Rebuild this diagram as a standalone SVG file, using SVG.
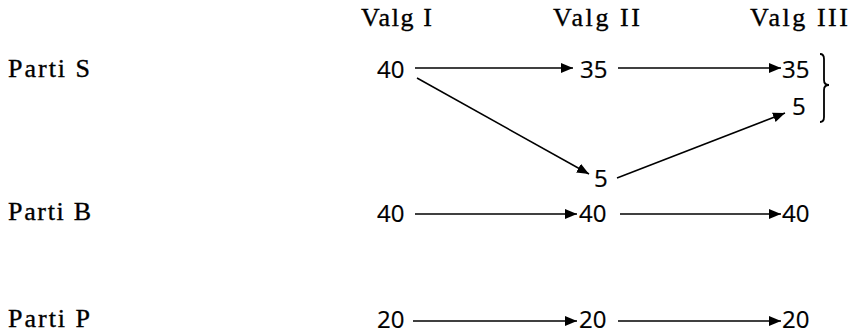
<svg xmlns="http://www.w3.org/2000/svg" width="855" height="335" viewBox="0 0 855 335">
<style>
.lbl{font-family:"Liberation Serif","Times New Roman",serif;font-size:26px;fill:#000;stroke:#000;stroke-width:0.35}
.num{font-family:"Open Sans","Liberation Sans",sans-serif;font-size:24px;fill:#000;stroke:#000;stroke-width:0.2}
.edge{stroke:#000;stroke-width:1.5;fill:none}
.brace{stroke:#000;stroke-width:1.8;fill:none}
</style>
<defs>
<marker id="ah" markerUnits="userSpaceOnUse" markerWidth="14" markerHeight="11" refX="12" refY="5" orient="auto">
<path d="M0,0 L12,5 L0,10 Z" fill="#000"/>
</marker>
</defs>
<rect width="855" height="335" fill="#fff"/>
<g id="headers">
<text class="lbl" x="361" y="26" textLength="71" lengthAdjust="spacing">Valg I</text>
<text class="lbl" x="553" y="26" textLength="87" lengthAdjust="spacing">Valg II</text>
<text class="lbl" x="750" y="26" textLength="98" lengthAdjust="spacing">Valg III</text>
</g>
<g id="parties">
<text class="lbl" x="8" y="77" textLength="82" lengthAdjust="spacing">Parti S</text>
<text class="lbl" x="8" y="220" textLength="83" lengthAdjust="spacing">Parti B</text>
<text class="lbl" x="8" y="327" textLength="82" lengthAdjust="spacing">Parti P</text>
</g>
<g id="n-s1"><text class="num" x="377" y="78">40</text></g>
<g id="n-s2"><text class="num" x="580" y="78">35</text></g>
<g id="n-s3"><text class="num" x="782" y="78">35</text></g>
<g id="n-s3b"><text class="num" x="792" y="115">5</text></g>
<g id="n-s2b"><text class="num" x="594" y="187">5</text></g>
<g id="n-b1"><text class="num" x="377" y="222">40</text></g>
<g id="n-b2"><text class="num" x="579" y="222">40</text></g>
<g id="n-b3"><text class="num" x="782" y="222">40</text></g>
<g id="n-p1"><text class="num" x="377" y="328">20</text></g>
<g id="n-p2"><text class="num" x="579" y="328">20</text></g>
<g id="n-p3"><text class="num" x="782" y="328">20</text></g>
<g id="brace"><path class="brace" d="M820,54 Q824,54 824,59 L824,80 Q824,85 829,85 Q824,85 824,90 L824,117 Q824,122 820,122"/></g>
<g id="connectors">
<line class="edge" x1="415" y1="68" x2="573" y2="68" marker-end="url(#ah)"/>
<line class="edge" x1="618" y1="68" x2="781" y2="68" marker-end="url(#ah)"/>
<line class="edge" x1="417" y1="78" x2="589" y2="174" marker-end="url(#ah)"/>
<line class="edge" x1="617" y1="178" x2="785" y2="113" marker-end="url(#ah)"/>
<line class="edge" x1="415" y1="214" x2="577" y2="214" marker-end="url(#ah)"/>
<line class="edge" x1="620" y1="214" x2="781" y2="214" marker-end="url(#ah)"/>
<line class="edge" x1="413" y1="321" x2="577" y2="321" marker-end="url(#ah)"/>
<line class="edge" x1="618" y1="321" x2="781" y2="321" marker-end="url(#ah)"/>
</g>
</svg>
